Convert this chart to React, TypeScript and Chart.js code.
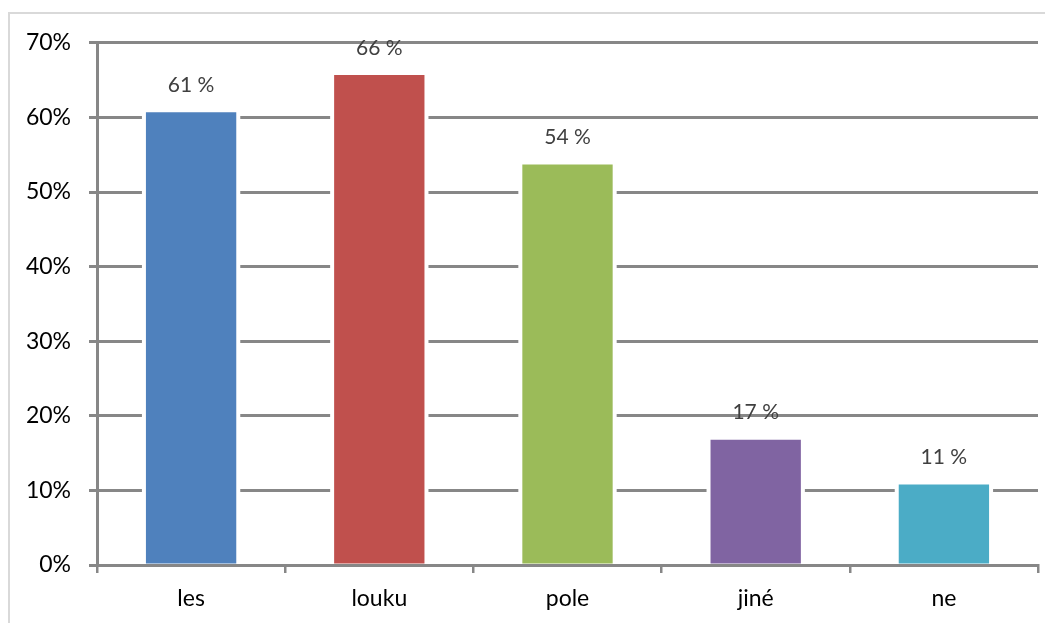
import React, { useEffect, useRef } from "react";
import { Chart, registerables } from "chart.js";

Chart.register(...registerables);

const categories: string[] = ["les", "louku", "pole", "jiné", "ne"];
const values: number[] = [60.7, 65.7, 53.7, 16.8, 10.8];
const barColors: string[] = ["#4f81bd", "#c0504d", "#9bbb59", "#8064a2", "#4bacc6"];
const yTickValues: number[] = [0, 10, 20, 30, 40, 50, 60, 70];

const FONT = "Lato, 'Open Sans', sans-serif";
const AXIS_GRAY = "#878787";

const haloPlugin = {
  id: "halo",
  beforeDatasetsDraw(chart: any) {
    const ctx = chart.ctx;
    const meta = chart.getDatasetMeta(0);
    ctx.save();
    ctx.fillStyle = "#ffffff";
    meta.data.forEach((bar: any) => {
      const p = bar.getProps(["x", "y", "base", "width"], true);
      const pad = 4;
      ctx.fillRect(p.x - p.width / 2 - pad, p.y - pad, p.width + pad * 2, p.base - p.y + pad - 2);
    });
    ctx.restore();
  },
};

const labelPlugin = {
  id: "valueLabels",
  afterDatasetsDraw(chart: any) {
    const ctx = chart.ctx;
    const meta = chart.getDatasetMeta(0);
    ctx.save();
    ctx.fillStyle = "#404040";
    ctx.font = `21px ${FONT}`;
    ctx.textAlign = "center";
    ctx.textBaseline = "middle";
    meta.data.forEach((bar: any, i: number) => {
      const p = bar.getProps(["x", "y"], true);
      ctx.fillText(`${Math.round(values[i])} %`, p.x, p.y - 27);
    });
    ctx.restore();
  },
};

export default function App() {
  const canvasRef = useRef<HTMLCanvasElement | null>(null);

  useEffect(() => {
    if (!canvasRef.current) return;
    const chart = new Chart(canvasRef.current, {
      type: "bar",
      data: {
        labels: categories,
        datasets: [
          {
            data: values,
            backgroundColor: barColors,
            borderWidth: 0,
            barPercentage: 0.48,
            categoryPercentage: 1,
          },
        ],
      },
      options: {
        animation: false,
        responsive: false,
        maintainAspectRatio: false,
        layout: { padding: { top: 23, right: 15, left: 0, bottom: 0 } },
        plugins: {
          legend: { display: false },
          tooltip: { enabled: false },
        },
        scales: {
          x: {
            offset: true,
            grid: {
              display: true,
              drawOnChartArea: false,
              drawTicks: true,
              tickLength: 8,
              offset: true,
              color: AXIS_GRAY,
              lineWidth: 2.5,
            },
            border: { display: true, color: AXIS_GRAY, width: 3 },
            ticks: {
              color: "#000000",
              font: { family: FONT, size: 23 },
              padding: 12,
            },
            afterFit(scale: any) {
              scale.height = 55;
            },
          },
          y: {
            min: 0,
            max: 70,
            afterBuildTicks(scale: any) {
              scale.ticks = yTickValues.map((v) => ({ value: v }));
            },
            grid: {
              color: AXIS_GRAY,
              lineWidth: 3,
              drawTicks: true,
              tickLength: 8,
            },
            border: { display: true, color: AXIS_GRAY, width: 3 },
            ticks: {
              color: "#000000",
              font: { family: FONT, size: 23 },
              padding: 18,
              callback: (v: any) => `${v}%`,
            },
            afterFit(scale: any) {
              scale.width = 87;
            },
          },
        },
      },
      plugins: [haloPlugin, labelPlugin],
    });
    return () => chart.destroy();
  }, []);

  return (
    <div
      style={{
        position: "relative",
        marginTop: 4,
        width: 1043,
        height: 609,
        borderTop: "2px solid #d9d9d9",
        borderLeft: "2px solid #d9d9d9",
        background: "#ffffff",
      }}
    >
      <canvas
        ref={canvasRef}
        width={1043}
        height={609}
        style={{ display: "block", position: "absolute", left: 0, top: -3 }}
      />
    </div>
  );
}
